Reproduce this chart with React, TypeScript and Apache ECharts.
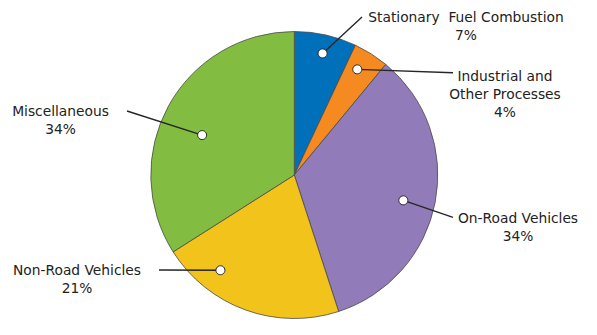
import React, { useEffect, useRef } from "react";
import * as echarts from "echarts";

const categories = [
  "Stationary  Fuel Combustion",
  "Industrial and\nOther Processes",
  "On-Road Vehicles",
  "Non-Road Vehicles",
  "Miscellaneous",
];
const values = [7, 4, 34, 21, 34];
const colors = ["#0070BA", "#F58A20", "#917BB8", "#F2C31A", "#82BD41"];

// label layout (styling / placement of annotations)
const CX = 294.3;
const CY = 175;
const R = 143.5;
const labelCenters = [
  [466, 25.5],
  [505, 94],
  [518, 227],
  [77, 279],
  [60.5, 120],
];
const lineEnds = [
  [362, 17],
  [453, 72.7],
  [453, 217.3],
  [159, 270],
  [127, 111],
];
const dotAngleOffset = [0.5, -1.6, 2.3, 18, -5.4];
const dotRadiusFrac = [0.87, 0.857, 0.78, 0.84, 0.7];

function dotPositions() {
  const total = values.reduce((a, b) => a + b, 0);
  let cum = 0;
  return values.map((v, i) => {
    const mid = ((cum + v / 2) / total) * 360 + dotAngleOffset[i];
    cum += v;
    const t = (mid * Math.PI) / 180;
    const r = R * dotRadiusFrac[i];
    return [CX + r * Math.sin(t), CY - r * Math.cos(t)];
  });
}

export default function App() {
  const ref = useRef<HTMLDivElement>(null);
  useEffect(() => {
    if (!ref.current) return;
    const chart = echarts.init(ref.current, null, { renderer: "svg" });
    const dots = dotPositions();
    const lines = dots.map((d, i) => ({
      type: "line",
      z: 99,
      silent: true,
      shape: { x1: d[0], y1: d[1], x2: lineEnds[i][0], y2: lineEnds[i][1] },
      style: { stroke: "#262626", lineWidth: 1.4 },
    }));
    const circles = dots.map((d) => ({
      type: "circle",
      z: 100,
      silent: true,
      shape: { cx: d[0], cy: d[1], r: 4.5 },
      style: { fill: "#ffffff", stroke: "#262626", lineWidth: 1 },
    }));
    chart.setOption({
      animation: false,
      backgroundColor: "#ffffff",
      textStyle: { fontFamily: "DejaVu Sans" },
      series: [
        {
          type: "pie",
          center: [CX, CY],
          radius: [0, R],
          startAngle: 90,
          clockwise: true,
          silent: true,
          avoidLabelOverlap: false,
          data: categories.map((name, i) => ({
            name,
            value: values[i],
            itemStyle: { color: colors[i] },
          })),
          itemStyle: { borderColor: "#4a4a4a", borderWidth: 0.8 },
          label: {
            show: true,
            position: "outside",
            formatter: "{b}\n{c}%",
            fontFamily: "DejaVu Sans",
            fontSize: 13.8,
            lineHeight: 18,
            color: "#222222",
            align: "center",
          },
          labelLine: { show: false },
          labelLayout: (params: any) => {
            const i = params.dataIndex;
            return {
              x: labelCenters[i][0],
              y: labelCenters[i][1],
              align: "center",
              verticalAlign: "middle",
            };
          },
        },
      ],
      graphic: [...lines, ...circles],
    });
    return () => chart.dispose();
  }, []);
  return (
    <div
      ref={ref}
      style={{ position: "fixed", left: 0, top: 0, width: 597, height: 335 }}
    />
  );
}
